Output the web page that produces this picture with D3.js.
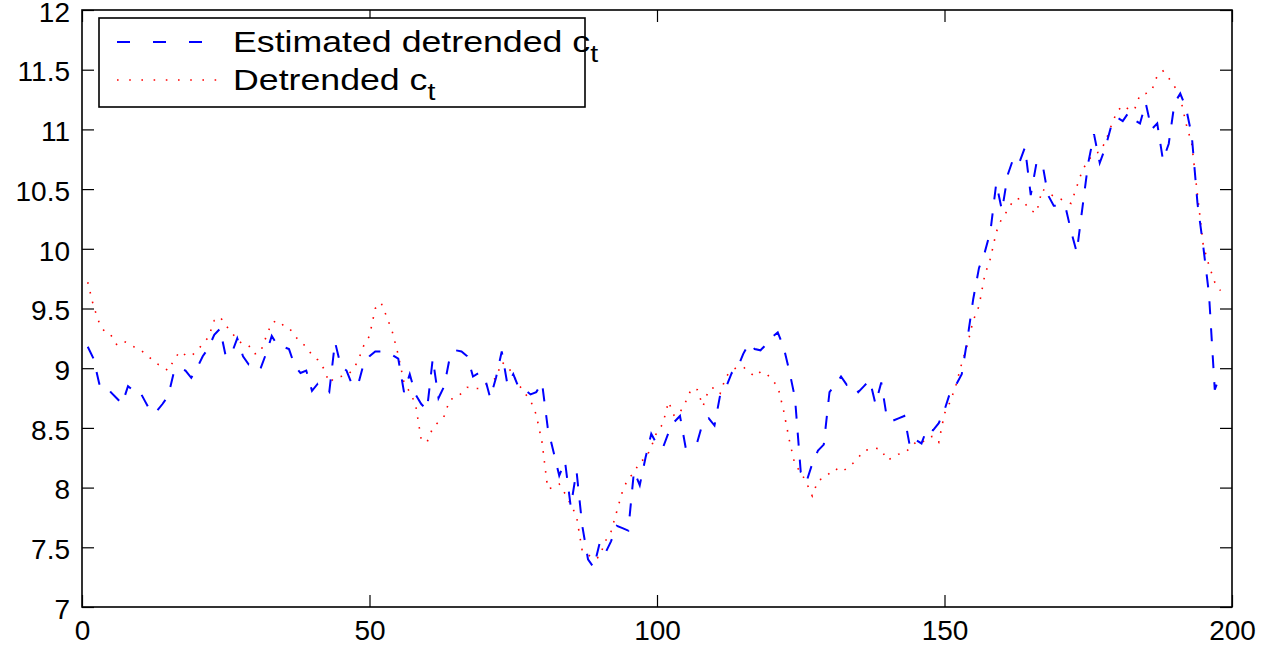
<!DOCTYPE html>
<html>
<head>
<meta charset="utf-8">
<script src="https://cdn.jsdelivr.net/npm/d3@7"></script>
<style>
  html, body { margin: 0; padding: 0; background: #fff; }
  svg text { font-family: "Liberation Sans", Arial, Helvetica, sans-serif; fill: #000; }
</style>
</head>
<body>
<div id="chart"></div>
<script>
// values, one per step starting at x = 1
const estimated = [
  9.18, 9.08, 8.87, 8.87, 8.80, 8.75, 8.70, 8.85, 8.81, 8.81,
  8.72, 8.63, 8.64, 8.70, 8.77, 8.97, 9.00, 8.98, 8.92, 9.00,
  9.10, 9.17, 9.28, 9.33, 9.10, 9.12, 9.25, 9.10, 9.03, 9.03,
  8.99, 9.12, 9.27, 9.19, 9.18, 9.16, 9.02, 8.96, 8.98, 8.81,
  8.87, 8.84, 8.80, 9.22, 9.02, 8.98, 8.86, 8.86, 9.04, 9.10,
  9.14, 9.14, 9.14, 9.11, 9.08, 8.80, 8.95, 8.78, 8.70, 8.65,
  9.08, 8.75, 8.85, 9.10, 9.15, 9.14, 9.10, 8.93, 8.96, 8.93,
  8.75, 8.92, 9.14, 8.86, 8.95, 8.83, 8.82, 8.78, 8.80, 8.88,
  8.50, 8.30, 8.10, 8.22, 7.84, 8.14, 7.68, 7.40, 7.33, 7.53,
  7.45, 7.55, 7.68, 7.66, 7.64, 8.14, 8.02, 8.25, 8.45, 8.36,
  8.33, 8.46, 8.55, 8.60, 8.33, 8.37, 8.38, 8.55, 8.58, 8.52,
  8.78, 8.84, 8.96, 9.00, 9.12, 9.21, 9.16, 9.15, 9.20, 9.26,
  9.30, 9.18, 8.98, 8.75, 8.13, 8.05, 8.20, 8.31, 8.36, 8.80,
  8.86, 8.93, 8.86, 8.87, 8.80, 8.85, 8.90, 8.70, 8.88, 8.58,
  8.56, 8.58, 8.60, 8.34, 8.40, 8.37, 8.50, 8.48, 8.54, 8.65,
  8.80, 8.86, 8.95, 9.25, 9.58, 9.84, 9.97, 10.15, 10.55, 10.32,
  10.62, 10.76, 10.72, 10.85, 10.45, 10.72, 10.72, 10.45, 10.36, 10.36,
  10.36, 10.15, 9.97, 10.35, 10.72, 10.96, 10.72, 10.85, 11.03, 11.10,
  11.07, 11.14, 11.08, 11.05, 11.22, 11.00, 11.05, 10.74, 10.88, 11.22,
  11.30, 11.18, 10.95, 10.38, 10.02, 9.62, 8.82, 8.95
];

const detrended = [
  9.72, 9.52, 9.38, 9.30, 9.28, 9.20, 9.23, 9.21, 9.18, 9.16,
  9.12, 9.08, 9.04, 9.01, 8.98, 9.07, 9.14, 9.11, 9.10, 9.15,
  9.20, 9.26, 9.40, 9.43, 9.36, 9.30, 9.24, 9.20, 9.19, 9.12,
  9.13, 9.26, 9.38, 9.40, 9.36, 9.34, 9.27, 9.22, 9.18, 9.11,
  9.07, 9.00, 8.88, 8.92, 8.93, 8.94, 8.98, 9.06, 9.19, 9.27,
  9.50, 9.55, 9.43, 9.30, 9.11, 8.88, 8.80, 8.70, 8.40, 8.38,
  8.50, 8.55, 8.60, 8.74, 8.75, 8.79, 8.84, 8.83, 8.83, 8.86,
  8.88, 8.92, 9.05, 9.02, 8.94, 8.86, 8.79, 8.73, 8.61, 8.38,
  7.99, 8.00, 8.03, 7.95, 7.86, 7.76, 7.47, 7.44, 7.40, 7.42,
  7.55, 7.63, 7.80, 7.97, 8.08, 8.12, 8.22, 8.24, 8.34, 8.47,
  8.53, 8.72, 8.60, 8.63, 8.72, 8.83, 8.82, 8.68, 8.82, 8.84,
  8.79, 8.93, 8.98, 9.01, 9.01, 8.97, 8.93, 8.97, 8.96, 8.90,
  8.85, 8.65, 8.40, 8.19, 8.13, 8.04, 7.93, 8.06, 8.08, 8.12,
  8.16, 8.13, 8.16, 8.20, 8.25, 8.31, 8.32, 8.33, 8.32, 8.23,
  8.25, 8.28, 8.29, 8.33, 8.38, 8.37, 8.42, 8.43, 8.38, 8.62,
  8.72, 8.86, 9.04, 9.20, 9.40, 9.52, 9.78, 9.92, 10.14, 10.26,
  10.32, 10.41, 10.42, 10.38, 10.32, 10.30, 10.50, 10.47, 10.44, 10.42,
  10.40, 10.38, 10.52, 10.66, 10.74, 10.80, 10.81, 10.90, 11.03, 11.15,
  11.20, 11.17, 11.16, 11.29, 11.30, 11.32, 11.45, 11.49, 11.43, 11.36,
  11.27, 11.05, 10.88, 10.45, 10.03, 9.86, 9.72, 9.65
];

const xTicks = [0, 50, 100, 150, 200];
const yTicks = [7, 7.5, 8, 8.5, 9, 9.5, 10, 10.5, 11, 11.5, 12];
const seriesNames = ['Estimated detrended c', 'Detrended c'];

const W = 1281, H = 646;
const plot = { left: 82, right: 1232, top: 10, bottom: 607 };

const svg = d3.select('#chart')
  .append('svg')
  .attr('width', W)
  .attr('height', H);

const x = d3.scaleLinear().domain([0, 200]).range([plot.left, plot.right]);
const y = d3.scaleLinear().domain([7, 12]).range([plot.bottom, plot.top]);

const fmt = d3.format('~g');

// ticks point inward on all four sides, labels only bottom and left
svg.append('g')
  .attr('transform', `translate(0,${plot.bottom})`)
  .call(d3.axisBottom(x).tickValues(xTicks).tickFormat(fmt)
    .tickSizeInner(-12).tickSizeOuter(0).tickPadding(13));

const leftAxis = svg.append('g')
  .attr('transform', `translate(${plot.left},0)`)
  .call(d3.axisLeft(y).tickValues(yTicks).tickFormat(fmt)
    .tickSizeInner(-12).tickSizeOuter(0).tickPadding(12));
leftAxis.selectAll('text').attr('dy', '0.4em');

svg.append('g')
  .attr('transform', `translate(0,${plot.top})`)
  .call(d3.axisTop(x).tickValues(xTicks).tickSizeInner(-12).tickSizeOuter(0).tickFormat(''));

svg.append('g')
  .attr('transform', `translate(${plot.right},0)`)
  .call(d3.axisRight(y).tickValues(yTicks).tickSizeInner(-12).tickSizeOuter(0).tickFormat(''));

svg.selectAll('.domain').remove();
svg.selectAll('.tick line').attr('stroke', '#000').attr('stroke-width', 1.2);
svg.selectAll('.tick text')
  .style('font-size', '28px')
  .style('font-family', '"Liberation Sans", Arial, sans-serif');

// the data lines
const line = d3.line()
  .x((d, i) => x(i + 1))
  .y(d => y(d));

svg.append('path')
  .datum(detrended)
  .attr('d', line)
  .attr('fill', 'none')
  .attr('stroke', '#ff0000')
  .attr('stroke-width', 1.6)
  .attr('stroke-dasharray', '1.6 8.4');

svg.append('path')
  .datum(estimated)
  .attr('d', line)
  .attr('fill', 'none')
  .attr('stroke', '#0000ff')
  .attr('stroke-width', 2)
  .attr('stroke-dasharray', '13 14');

// axes box
svg.append('rect')
  .attr('x', plot.left)
  .attr('y', plot.top)
  .attr('width', plot.right - plot.left)
  .attr('height', plot.bottom - plot.top)
  .attr('fill', 'none')
  .attr('stroke', '#000')
  .attr('stroke-width', 1.6);

// legend
const legend = svg.append('g');

legend.append('rect')
  .attr('x', 99)
  .attr('y', 18)
  .attr('width', 486)
  .attr('height', 89)
  .attr('fill', '#fff')
  .attr('stroke', '#000')
  .attr('stroke-width', 1.6);

const legendRows = [
  { name: seriesNames[0], color: '#0000ff', dash: '13 23', width: 2, y: 42 },
  { name: seriesNames[1], color: '#ff0000', dash: '1.6 10.6', width: 1.6, y: 80 }
];

legendRows.forEach(r => {
  legend.append('line')
    .attr('x1', 117).attr('x2', 222)
    .attr('y1', r.y).attr('y2', r.y)
    .attr('stroke', r.color)
    .attr('stroke-width', r.width)
    .attr('stroke-dasharray', r.dash);

  // the legend lettering in the reference is wider than plain Arial
  const t = legend.append('text')
    .attr('transform', `translate(233,${r.y + 10}) scale(1.19,1)`)
    .style('font-size', '30px');
  t.append('tspan').text(r.name);
  t.append('tspan').attr('dy', 10).style('font-size', '24px').text('t');
});
</script>
</body>
</html>
